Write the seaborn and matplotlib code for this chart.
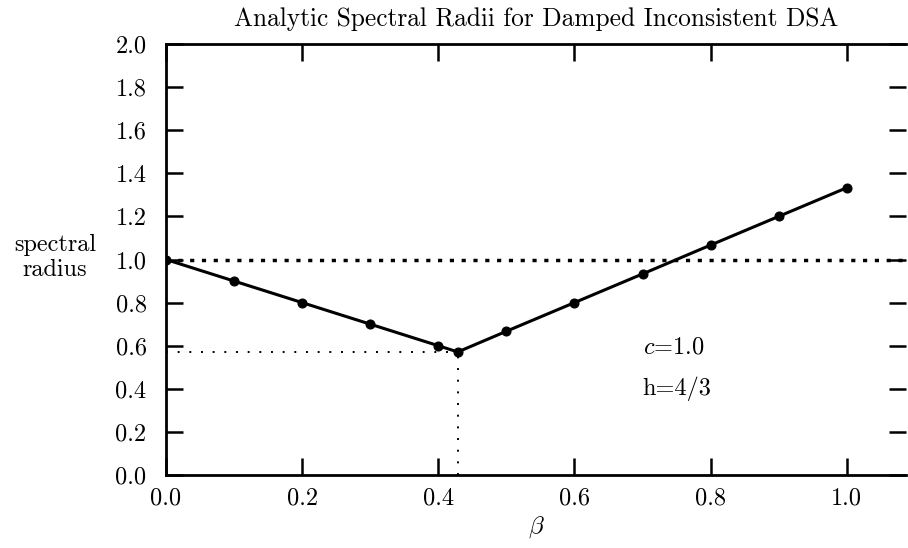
import matplotlib
matplotlib.use("Agg")
import matplotlib.pyplot as plt
import seaborn as sns
import pandas as pd

beta = [0.0, 0.1, 0.2, 0.3, 0.4, 0.4286, 0.5, 0.6, 0.7, 0.8, 0.9, 1.0]
radius = [1.0, 0.9, 0.8, 0.7, 0.6, 0.571, 0.667, 0.8, 0.933, 1.067, 1.2, 1.333]
beta_min = 0.4286
radius_min = 0.571
xticks = [0.0, 0.2, 0.4, 0.6, 0.8, 1.0]
yticks = [0.0, 0.2, 0.4, 0.6, 0.8, 1.0, 1.2, 1.4, 1.6, 1.8, 2.0]

sns.set_style("ticks")
plt.rcParams["font.family"] = ["cmr10", "DejaVu Serif"]
plt.rcParams["mathtext.fontset"] = "cm"
plt.rcParams["axes.unicode_minus"] = False
plt.rcParams["axes.edgecolor"] = "black"
plt.rcParams["xtick.color"] = "black"
plt.rcParams["ytick.color"] = "black"
plt.rcParams["text.color"] = "black"
plt.rcParams["axes.labelcolor"] = "black"

fig = plt.figure(figsize=(9.08, 5.48), dpi=100)
ax = fig.add_axes([0.1828, 0.1332, 0.9978 - 0.1828, 0.9197 - 0.1332])

df = pd.DataFrame({"beta": beta, "radius": radius})
sns.lineplot(data=df, x="beta", y="radius", ax=ax, color="black", linewidth=2.2,
             marker="o", markersize=6.5, markeredgecolor="black", zorder=3)

ax.axhline(1.0, color="black", linestyle=(0, (1.2, 2.2)), linewidth=2.5, zorder=2)
ax.plot([0, beta_min], [radius_min, radius_min], color="black",
        linestyle=(0, (1, 5)), linewidth=1.4)
ax.plot([beta_min, beta_min], [0, radius_min], color="black",
        linestyle=(0, (1, 5)), linewidth=1.4)

ax.set_xlim(0, 1.087)
ax.set_ylim(0, 2.0)
ax.set_xticks(xticks)
ax.set_yticks(yticks)
ax.set_xticklabels([f"{v:.1f}" for v in xticks])
ax.set_yticklabels([f"{v:.1f}" for v in yticks])
ax.tick_params(direction="in", length=12, width=1.8, top=True, right=True,
               labelsize=17.5, colors="black")
ax.tick_params(axis="y", pad=14)
ax.tick_params(axis="x", pad=9)
for s in ["left", "bottom", "top"]:
    ax.spines[s].set_linewidth(2)
    ax.spines[s].set_color("black")
    ax.spines[s].set_visible(True)
ax.spines["right"].set_visible(False)

ax.set_xlabel(r"$\beta$", fontsize=18, labelpad=3)
ax.set_ylabel("spectral\nradius", fontsize=17.5, rotation=0, ha="center",
              va="center", labelpad=0, linespacing=1.15)
ax.yaxis.set_label_coords(-0.15, 0.505)
ax.set_title("Analytic Spectral Radii for Damped Inconsistent DSA",
             fontsize=18.3, pad=13)

ax.text(0.70, 0.59, r"$c$=1.0", fontsize=17.5, va="center")
ax.text(0.70, 0.40, "h=4/3", fontsize=17.5, va="center")

fig.savefig("out.png", dpi=100)
